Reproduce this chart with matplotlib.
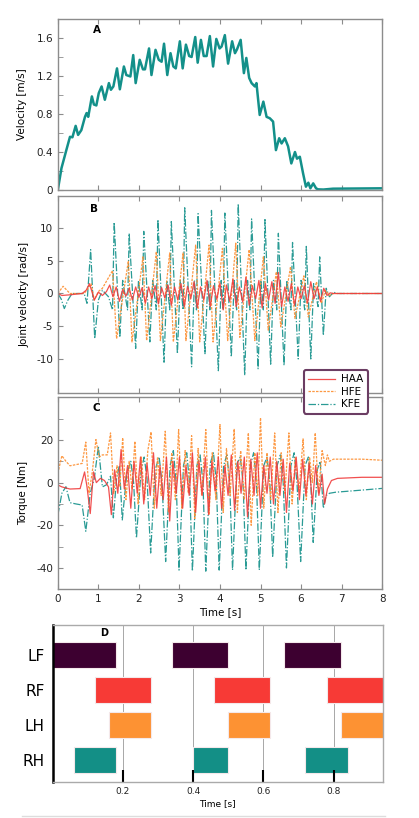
import numpy as np
import matplotlib
matplotlib.use('Agg')
import matplotlib.pyplot as plt
from matplotlib.lines import Line2D
from matplotlib.ticker import MultipleLocator

plt.rcParams['axes.unicode_minus'] = False
plt.rcParams['font.family'] = ['DejaVu Sans']

# ---------------- data ----------------
# A: body velocity
vel_t = [0, 0.09, 0.21, 0.30, 0.36, 0.44, 0.50, 0.58, 0.67, 0.71,
         0.75, 0.84, 0.89, 0.95, 1.01, 1.08, 1.16, 1.26, 1.31, 1.37,
         1.46, 1.53, 1.63, 1.69, 1.79, 1.86, 1.92, 2.02, 2.10, 2.15,
         2.25, 2.31, 2.41, 2.49, 2.56, 2.62, 2.70, 2.78, 2.85, 2.91,
         3.01, 3.08, 3.16, 3.24, 3.30, 3.39, 3.45, 3.53, 3.60, 3.67,
         3.75, 3.83, 3.91, 3.99, 4.04, 4.12, 4.20, 4.30, 4.37, 4.42,
         4.51, 4.59, 4.65, 4.72, 4.78, 4.86, 4.90, 4.98, 5.07, 5.15,
         5.23, 5.31, 5.38, 5.46, 5.52, 5.60, 5.68, 5.76, 5.85, 5.90,
         5.97, 6.05, 6.12, 6.18, 6.23, 6.30, 6.37, 6.42, 6.55, 6.79,
         8.0]
vel = [0, 0.23, 0.42, 0.56, 0.555, 0.675, 0.58, 0.63, 0.77, 0.81,
       0.77, 0.985, 0.90, 0.89, 1.02, 1.09, 0.95, 1.125, 1.055, 1.09,
       1.28, 1.06, 1.30, 1.21, 1.195, 1.42, 1.125, 1.37, 1.27, 1.27,
       1.49, 1.21, 1.475, 1.37, 1.35, 1.54, 1.21, 1.44, 1.30, 1.28,
       1.565, 1.28, 1.53, 1.41, 1.40, 1.61, 1.34, 1.58, 1.41, 1.41,
       1.62, 1.30, 1.59, 1.49, 1.51, 1.63, 1.33, 1.565, 1.44, 1.48,
       1.58, 1.23, 1.39, 1.18, 1.125, 1.09, 1.125, 0.79, 0.93, 0.77,
       0.755, 0.72, 0.42, 0.545, 0.49, 0.545, 0.46, 0.28, 0.40, 0.33,
       0.35, 0.175, 0.035, 0.077, 0.018, 0.07, 0.018, 0.007, 0.005, 0.014,
       0.018]

# B: joint velocities (time, rad/s)
haa_vel = [(0, 0), (0.1, -0.3), (0.3, -0.2), (0.6, 0), (0.7, 0.5), (0.78, 1.5), (0.84, 0.3),
           (0.9, -1.0), (1.0, 0.2), (1.1, -0.3), (1.2, 0.3), (1.28, 1.3), (1.36, -0.5),
           (1.44, 1.0), (1.52, -1.2), (1.6, 0.6), (1.68, -0.4), (1.76, 0.8), (1.84, -1.0),
           (1.92, 1.0), (2.0, -0.6), (2.08, 0.9), (2.16, -1.5), (2.24, 1.0), (2.32, -0.8),
           (2.40, 1.2), (2.48, -1.6), (2.56, 0.9), (2.64, -0.7), (2.72, 1.3), (2.80, -1.8),
           (2.88, 1.0), (2.96, -1.0), (3.04, 1.5), (3.12, -2.0), (3.20, 1.1), (3.28, -0.8),
           (3.36, 1.8), (3.44, -2.2), (3.52, 1.0), (3.60, -1.0), (3.68, 2.0), (3.76, -2.0),
           (3.84, 1.2), (3.92, -0.9), (4.00, 1.6), (4.08, -2.5), (4.16, 1.3), (4.24, -1.2),
           (4.32, 2.2), (4.40, -2.0), (4.48, 1.0), (4.56, -1.3), (4.64, 2.5), (4.72, -1.8),
           (4.80, 1.2), (4.88, -0.8), (4.96, 2.0), (5.04, -2.2), (5.12, 1.5), (5.20, -1.0),
           (5.28, 1.8), (5.36, -1.5), (5.44, 3.2), (5.52, -2.0), (5.60, 1.0), (5.68, -1.2),
           (5.76, 1.5), (5.84, -1.8), (5.92, 1.0), (6.00, -0.8), (6.08, 1.2), (6.16, -1.5),
           (6.24, 1.8), (6.32, -0.8), (6.40, 1.0), (6.48, -1.2), (6.56, 0.8), (6.64, -0.3),
           (6.72, 0.1), (6.8, 0), (8, 0)]
hfe_vel = [(0, 0), (0.13, 1.1), (0.3, 0), (0.65, 0), (0.75, 0.8), (0.82, 1.5), (0.9, -1.0),
           (1.0, 0.3), (1.1, 0.8), (1.35, 3.5), (1.45, -6.9), (1.74, 5.0), (1.83, -7.4),
           (2.10, 5.6), (2.19, -7.2), (2.43, 6.4), (2.53, -7.2), (2.76, 6.2), (2.85, -7.4),
           (3.09, 6.2), (3.16, -7.2), (3.40, 7.4), (3.50, -7.4), (3.73, 7.4), (3.83, -7.4),
           (4.06, 6.9), (4.19, -7.2), (4.39, 7.7), (4.49, -6.7), (4.72, 6.7), (4.86, -7.2),
           (5.07, 5.6), (5.19, -5.6), (5.39, 3.3), (5.50, -5.1), (5.74, 4.1), (5.85, -3.8),
           (6.07, 2.7), (6.18, -3.6), (6.38, 1.8), (6.5, -1.5), (6.6, 0.5), (6.7, -0.3),
           (6.8, 0), (8, 0)]
kfe_vel = [(0, 0), (0.08, -0.8), (0.16, -2.3), (0.25, -1.0), (0.35, 0), (0.65, 0), (0.72, -1.5),
           (0.81, 6.7), (0.91, -6.9), (1.0, -1.0), (1.1, 0.5), (1.25, -0.5), (1.35, -2.5),
           (1.39, 10.9), (1.53, -6.7), (1.60, 2.0), (1.72, -2.5), (1.76, 9.2), (1.92, -8.4),
           (1.99, 2.0), (2.08, -2.5), (2.12, 9.5), (2.27, -7.4), (2.34, 2.0), (2.43, -2.5),
           (2.47, 11.3), (2.62, -10.5), (2.69, 2.0), (2.76, -2.5), (2.80, 11.0), (2.95, -9.2),
           (3.02, 2.0), (3.09, -2.5), (3.13, 13.1), (3.30, -11.2), (3.37, 2.0), (3.42, -2.5),
           (3.46, 12.2), (3.63, -9.2), (3.70, 2.0), (3.75, -2.5), (3.79, 12.7), (3.96, -11.8),
           (4.03, 2.0), (4.08, -2.5), (4.12, 12.3), (4.28, -9.7), (4.35, 2.0), (4.41, -2.5),
           (4.45, 13.7), (4.61, -12.5), (4.68, 2.0), (4.74, -2.5), (4.78, 11.4), (4.94, -11.5),
           (5.01, 2.0), (5.07, -2.5), (5.11, 11.3), (5.25, -10.8), (5.32, 2.0), (5.40, -2.5),
           (5.44, 9.2), (5.58, -11.0), (5.65, 2.0), (5.75, -2.5), (5.79, 7.8), (5.93, -10.0),
           (6.00, 2.0), (6.09, -2.5), (6.13, 7.2), (6.24, -10.0), (6.31, 1.5), (6.42, -2.0),
           (6.46, 5.6), (6.55, -6.4), (6.62, 0.8), (6.7, -0.5), (6.8, 0.2), (6.9, 0), (8, 0)]

# C: joint torques (time, Nm)
haa_tau = [(0, -1.1), (0.1, -2), (0.3, -3), (0.55, -2.8), (0.66, 5), (0.72, -2), (0.8, -14.5),
           (0.88, 5), (0.95, 0), (1.05, 2), (1.15, 1), (1.25, -2), (1.32, -15), (1.4, 6),
           (1.48, -5), (1.56, 15.5), (1.64, -3), (1.72, 8), (1.8, -12), (1.88, 10), (1.96, -5),
           (2.04, 12), (2.12, -10), (2.2, 9), (2.28, -6), (2.36, 14), (2.44, -12), (2.52, 8),
           (2.6, -8), (2.68, 12), (2.76, -18), (2.84, 10), (2.92, -5), (3.0, 12), (3.08, -12),
           (3.16, 8), (3.24, -6), (3.32, 14), (3.4, -14), (3.48, 10), (3.56, -6), (3.64, 12),
           (3.72, -15), (3.8, 10), (3.88, -4), (3.96, 12), (4.04, -12), (4.12, 8), (4.2, -6),
           (4.28, 13), (4.36, -13), (4.44, 10), (4.52, -5), (4.6, 12), (4.68, -16), (4.76, 11),
           (4.84, -6), (4.92, 14), (5.0, -12), (5.08, 8), (5.16, -5), (5.24, 12), (5.32, -10),
           (5.4, 10), (5.48, -6), (5.56, 11), (5.64, -14), (5.72, 9), (5.8, -4), (5.88, 12),
           (5.96, -8), (6.04, 11), (6.12, -6), (6.2, 9), (6.28, -10), (6.36, 8), (6.44, -6),
           (6.52, 4), (6.58, -10), (6.65, -3), (6.75, 1), (6.9, 2), (7.5, 2.5), (8, 2.5)]
hfe_tau = [(0, 4.4), (0.1, 12.6), (0.2, 10), (0.3, 7.9), (0.6, 9), (0.69, 19), (0.77, -5),
           (0.85, 5), (0.94, 20.2), (1.02, 12), (1.1, 13), (1.22, 13), (1.3, 23.3), (1.38, -5),
           (1.46, 8), (1.53, -2), (1.6, 21), (1.68, -8), (1.76, 10), (1.83, -3), (1.9, 19.4),
           (1.98, -10), (2.06, 12), (2.14, -8), (2.22, 15), (2.3, 23.8), (2.38, -12), (2.46, 12),
           (2.55, -6), (2.65, 24.1), (2.73, -14), (2.81, 14), (2.9, -8), (2.98, 24.9), (3.06, -12),
           (3.14, 15), (3.22, -5), (3.3, 22), (3.38, -16.8), (3.46, 16), (3.55, -6), (3.65, 24.9),
           (3.73, -15), (3.81, 14), (3.9, -8), (4.0, 27.2), (4.08, -14), (4.16, 16), (4.25, -6),
           (4.35, 25.2), (4.43, -14), (4.51, 15), (4.6, -8), (4.7, 23.3), (4.77, -20), (4.86, 14),
           (4.93, -6), (5.0, 30.4), (5.08, -12), (5.16, 14), (5.25, -8), (5.35, 23.3), (5.43, -14),
           (5.51, 14), (5.6, -5), (5.7, 23.3), (5.78, -10), (5.86, 12), (5.95, -4), (6.05, 20.5),
           (6.13, -8), (6.21, 12), (6.28, 0), (6.35, 23.3), (6.43, -5), (6.52, 15), (6.6, 8),
           (6.65, 13), (6.7, 10), (6.8, 11), (7.5, 11), (8, 10.5)]
kfe_tau = [(0, -15.3), (0.1, -5), (0.2, -1.9), (0.3, -9.4), (0.45, -10), (0.6, -10.5), (0.69, -22.8),
           (0.8, -5), (0.9, 2), (1.0, 17), (1.1, -2), (1.2, -1), (1.3, 3), (1.37, -16.5), (1.45, 2),
           (1.52, 8), (1.59, -17.5), (1.7, 4), (1.8, 10), (1.87, 0), (1.94, -26), (2.05, 5),
           (2.13, 12), (2.2, 2), (2.29, -33), (2.4, 6), (2.5, 12), (2.57, 0), (2.66, -37), (2.77, 8),
           (2.85, 15), (2.92, 0), (2.99, -41), (3.1, 8), (3.18, 14), (3.25, 0), (3.32, -41.5),
           (3.43, 8), (3.51, 13), (3.58, 0), (3.65, -41.5), (3.76, 9), (3.84, 14), (3.91, 0),
           (3.98, -41), (4.09, 8), (4.17, 13), (4.24, 0), (4.31, -41), (4.42, 9), (4.5, 12),
           (4.57, 0), (4.64, -41), (4.75, 8), (4.83, 14), (4.9, 0), (4.97, -41), (5.08, 8),
           (5.16, 12), (5.23, 0), (5.30, -35), (5.41, 8), (5.49, 13), (5.56, 0), (5.64, -40),
           (5.75, 8), (5.83, 14), (5.9, 0), (5.99, -37), (6.1, 8), (6.18, 12), (6.24, 0),
           (6.30, -28), (6.4, 6), (6.47, 10), (6.55, -12), (6.62, -6), (6.7, -5), (6.85, -4.5),
           (7.5, -3.5), (8, -2.7)]

# D: gait diagram, stance intervals (start, end) in s
legs = ['LF', 'RF', 'LH', 'RH']
stance = {
    'LF': [(0.0, 0.18), (0.34, 0.50), (0.66, 0.82)],
    'RF': [(0.12, 0.28), (0.46, 0.62), (0.78, 0.96)],
    'LH': [(0.16, 0.28), (0.50, 0.62), (0.82, 0.96)],
    'RH': [(0.06, 0.18), (0.40, 0.50), (0.72, 0.84)],
}
leg_colors = {'LF': '#3d0030', 'RF': '#f73a36', 'LH': '#fd9233', 'RH': '#138f86'}
gait_ticks = [0.2, 0.4, 0.6, 0.8]

TEAL = '#13908a'
RED = '#f03c3c'
ORANGE = '#fd8d2e'
SPINE = '#8c8c8c'
FS = 7.5

fig = plt.figure(figsize=(4.19, 8.18), dpi=100)
W = 0.774
axA = fig.add_axes([0.138, 0.7677, W, 0.2091])
axB = fig.add_axes([0.138, 0.5196, W, 0.2408])
axC = fig.add_axes([0.138, 0.2796, W, 0.2347])
axD = fig.add_axes([0.1258, 0.0444, 0.7876, 0.1915])


def style(ax, labels_x=False):
    for s in ax.spines.values():
        s.set_color(SPINE)
        s.set_linewidth(1.0)
    ax.set_xlim(0, 8)
    ax.xaxis.set_major_locator(MultipleLocator(1))
    ax.tick_params(axis='x', which='both', direction='in', top=True, bottom=True,
                   color=SPINE, length=3.5, labelsize=FS, labelcolor='#222222',
                   labelbottom=labels_x)
    ax.tick_params(axis='y', which='both', direction='in', left=True, right=False,
                   color=SPINE, length=3.5, labelsize=FS, labelcolor='#222222')
    ax.tick_params(axis='y', which='minor', labelleft=False)


# ---- A ----
axA.plot(vel_t, vel, color=TEAL, lw=1.8, solid_joinstyle='round')
style(axA)
axA.set_ylim(0, 1.8)
axA.set_yticks([0, 0.4, 0.8, 1.2, 1.6])
axA.set_yticklabels(['0', '0.4', '0.8', '1.2', '1.6'])
axA.yaxis.set_minor_locator(MultipleLocator(0.2))
axA.set_ylabel('Velocity [m/s]', fontsize=FS)
axA.yaxis.set_label_coords(-0.094, 0.5)
axA.text(0.122, 0.935, 'A', transform=axA.transAxes, fontsize=FS, fontweight='bold',
         ha='center', va='center')

# ---- B ----
for series, col, ls in [(kfe_vel, TEAL, (0, (6, 1.5, 1, 1.5))),
                        (hfe_vel, ORANGE, (0, (2, 1))),
                        (haa_vel, RED, '-')]:
    t, v = zip(*series)
    axB.plot(t, v, color=col, lw=0.9, ls=ls, alpha=0.9)
style(axB)
axB.set_ylim(-15.2, 14.9)
axB.set_yticks([-10, -5, 0, 5, 10])
axB.set_ylabel('Joint velocity [rad/s]', fontsize=FS)
axB.yaxis.set_label_coords(-0.086, 0.5)
axB.text(0.112, 0.932, 'B', transform=axB.transAxes, fontsize=FS, fontweight='bold',
         ha='center', va='center')

# ---- C ----
lines = {}
for name, series, col, ls in [('KFE', kfe_tau, TEAL, (0, (6, 1.5, 1, 1.5))),
                              ('HFE', hfe_tau, ORANGE, (0, (2, 1))),
                              ('HAA', haa_tau, RED, '-')]:
    t, v = zip(*series)
    lines[name], = axC.plot(t, v, color=col, lw=0.9, ls=ls, alpha=0.9, label=name)
style(axC, labels_x=True)
axC.set_ylim(-50, 40)
axC.set_yticks([-40, -20, 0, 20])
axC.yaxis.set_minor_locator(MultipleLocator(10))
axC.set_ylabel('Torque [Nm]', fontsize=FS)
axC.yaxis.set_label_coords(-0.093, 0.5)
axC.set_xlabel('Time [s]', fontsize=FS, labelpad=2)
axC.text(0.119, 0.943, 'C', transform=axC.transAxes, fontsize=FS, fontweight='bold',
         ha='center', va='center')

leg = fig.legend([lines['HAA'], lines['HFE'], lines['KFE']], ['HAA', 'HFE', 'KFE'],
                 loc='upper left', bbox_to_anchor=(0.7255, 0.5477), borderaxespad=0,
                 fontsize=FS, handlelength=2.6, fancybox=True, framealpha=1,
                 borderpad=0.4, labelspacing=0.25, handletextpad=0.6)
leg.get_frame().set_edgecolor('#6b3d63')
leg.get_frame().set_linewidth(1.5)

# ---- D ----
for i, leg_name in enumerate(legs):
    y = len(legs) - 1 - i
    spans = [(a, b - a) for a, b in stance[leg_name]]
    axD.broken_barh(spans, (y - 0.365, 0.73), facecolors=leg_colors[leg_name],
                    edgecolors='#f4e8ea', linewidth=0.8)
axD.set_xlim(0, 0.94)
axD.set_ylim(-0.62, 3.86)
axD.set_yticks(range(len(legs)))
axD.set_yticklabels(legs[::-1], fontsize=11)
axD.set_xticks(gait_ticks)
axD.set_xticklabels([f'{v:.1f}' for v in gait_ticks])
for v in gait_ticks:
    axD.axvline(v, color='#333333', ls=(0, (1.2, 1.2)), lw=0.6, zorder=0)
axD.tick_params(axis='x', direction='in', length=9, width=1.5, color='black',
                labelsize=6.5, pad=4, labelcolor='#222222')
axD.tick_params(axis='y', length=0, pad=6)
for s in ['top', 'right', 'bottom']:
    axD.spines[s].set_color('#aaaaaa')
    axD.spines[s].set_linewidth(1.0)
axD.spines['left'].set_color('black')
axD.spines['left'].set_linewidth(1.8)
axD.set_xlabel('Time [s]', fontsize=6.5, labelpad=2)
axD.text(0.155, 0.951, 'D', transform=axD.transAxes, fontsize=7, fontweight='bold',
         ha='center', va='center')

fig.add_artist(Line2D([22 / 419, 385 / 419], [1 - 816 / 818] * 2, color='#dddddd', lw=1))

fig.savefig('out.png', dpi=100, facecolor='white')
